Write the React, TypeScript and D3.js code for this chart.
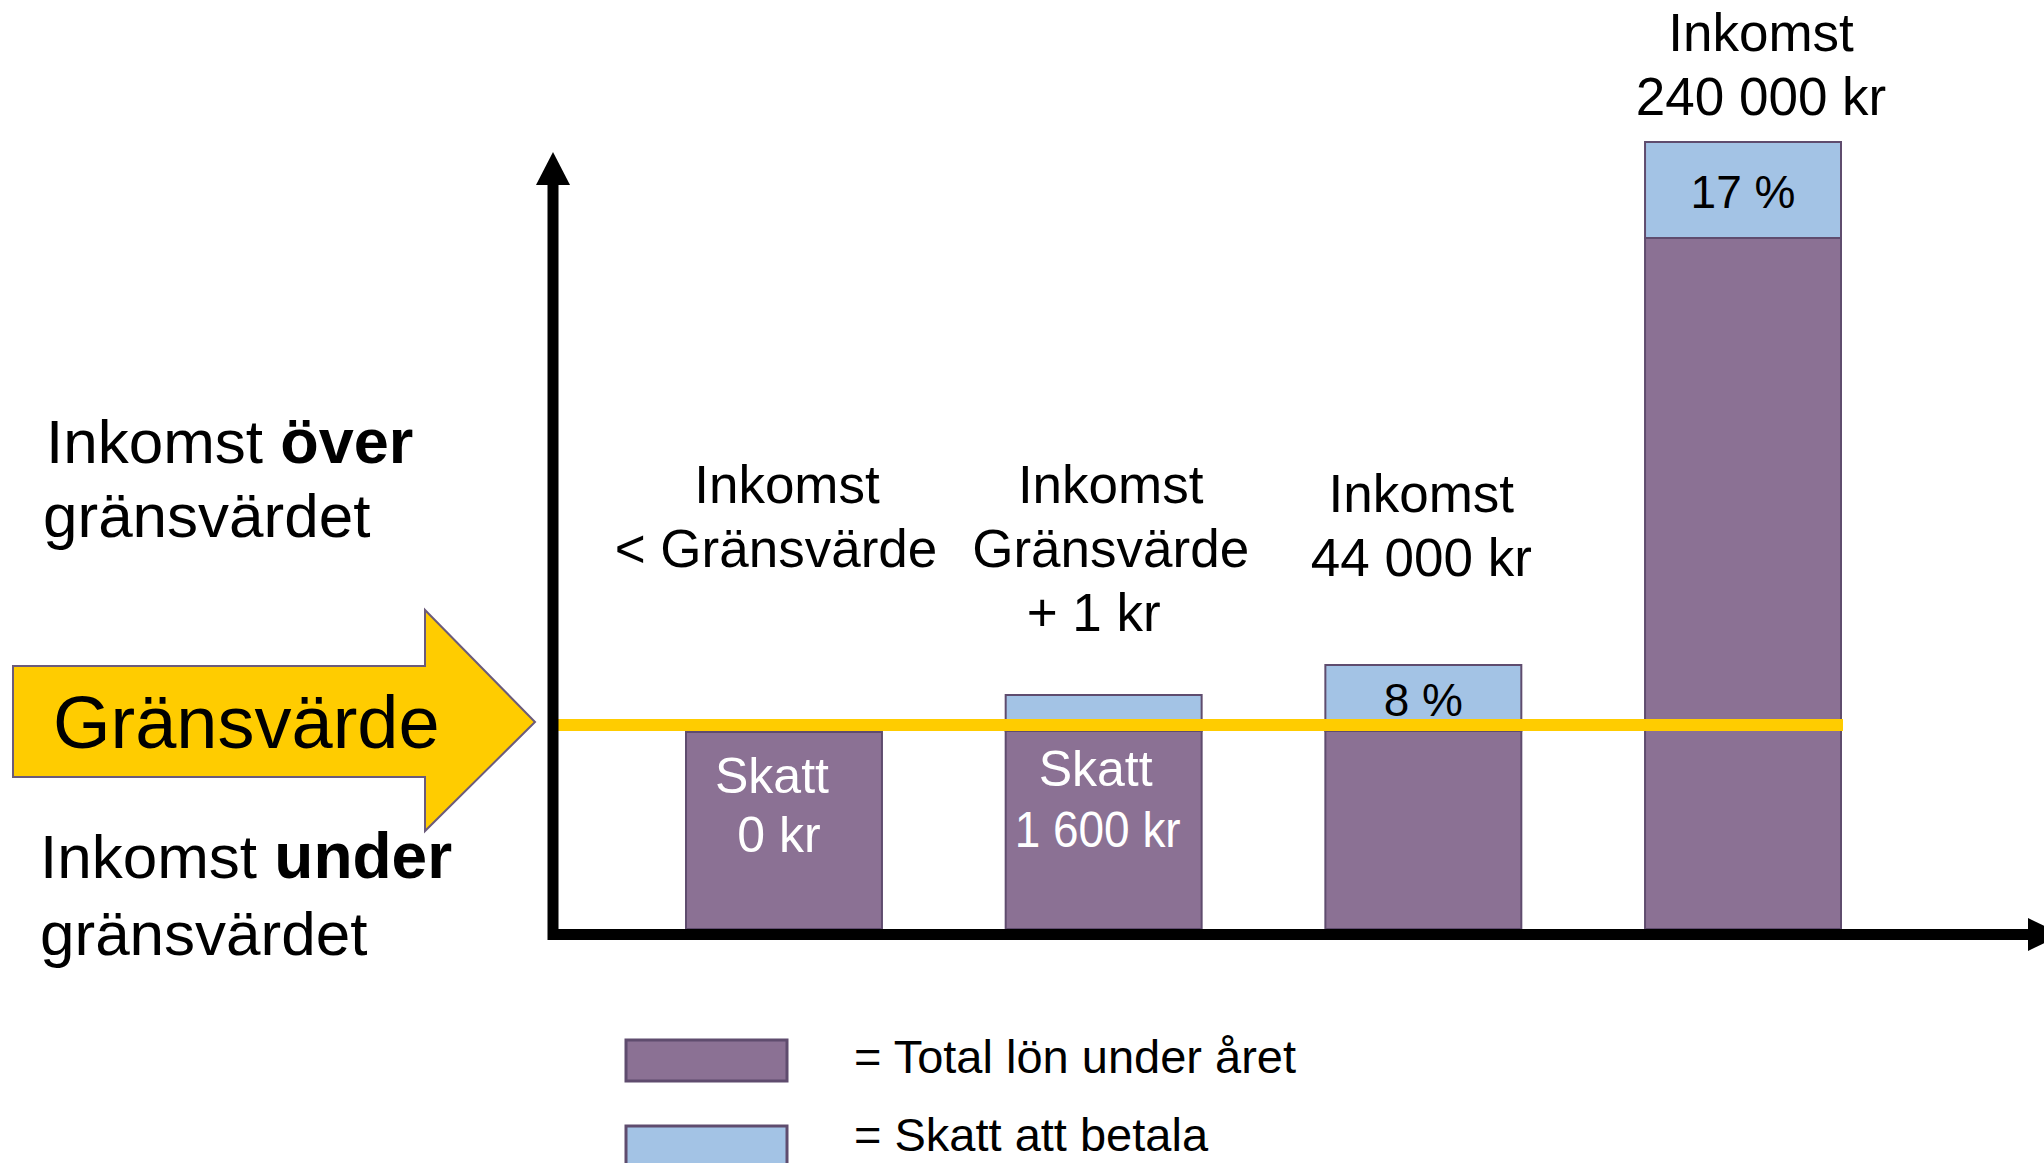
import React from "react";
import * as d3 from "d3";

// bars, left to right
const categories = ["under", "grans", "mellan", "hog"];
const labelLines = [
  ["Inkomst", "< Gränsvärde"],
  ["Inkomst", "Gränsvärde", "+ 1 kr"],
  ["Inkomst", "44 000 kr"],
  ["Inkomst", "240 000 kr"],
];
// schematic heights (arbitrary units)
const lonValues = [197, 198, 198, 691];
const skattValues = [0, 36, 66, 96];
const skattPercent = ["", "", "8 %", "17 %"];
const innerLabels = [["Skatt", "0 kr"], ["Skatt", "1 600 kr"], [], []];
const threshold = 204;
const legendItems = ["= Total lön under året", "= Skatt att betala"];

const FONT = "'Liberation Sans', Arial, sans-serif";
const PURPLE = "#8b7194";
const BLUE = "#a3c3e5";
const EDGE = "#5f4c6e";
const YELLOW = "#ffcc00";

export default function App() {
  const width = 2044;
  const height = 1163;
  const base = 929;

  const x = d3.scaleBand().domain(categories).range([686, 1841]).paddingInner(0.387).paddingOuter(0);
  const y = d3.scaleLinear().domain([0, 800]).range([base, base - 800]);

  // text layout tweaks
  const labelY = [503, 503, 512, 51];
  const labelDx = [[3, -8], [7, 7, -10], [-2, -2], [18, 18]];
  const innerDx = [[-12, -5], [-8, -6]];
  const innerY = [[61, 120], [55, 116]];

  return (
    <svg width={width} height={height} style={{ position: "absolute", left: 0, top: 0 }} fontFamily={FONT}>
      <rect width={width} height={height} fill="white" />

      {/* left side texts */}
      <text x={46} y={463} fontSize={62}>Inkomst <tspan fontWeight="bold" fontSize={63}>över</tspan></text>
      <text x={43} y={537} fontSize={62}>gränsvärdet</text>
      <text x={40} y={878} fontSize={62}>Inkomst <tspan fontWeight="bold" fontSize={64}>under</tspan></text>
      <text x={40} y={955} fontSize={62}>gränsvärdet</text>

      {/* big arrow */}
      <polygon
        points="13,666 425,666 425,610 535,722 425,831 425,777 13,777"
        fill={YELLOW}
        stroke="#6b5b7b"
        strokeWidth={2}
      />
      <text x={53} y={748} fontSize={74}>Gränsvärde</text>

      {/* bars */}
      {categories.map((c, i) => {
        const bx = x(c) as number;
        const bw = x.bandwidth();
        const lonTop = y(lonValues[i]);
        const skattTop = y(lonValues[i] + skattValues[i]);
        const cx = bx + bw / 2;
        return (
          <g key={c}>
            <rect x={bx} y={lonTop} width={bw} height={base - lonTop} fill={PURPLE} stroke={EDGE} strokeWidth={2} />
            {skattValues[i] > 0 && (
              <rect x={bx} y={skattTop} width={bw} height={lonTop - skattTop} fill={BLUE} stroke={EDGE} strokeWidth={2} />
            )}
            {skattPercent[i] && (
              <text x={cx} y={(lonTop + skattTop) / 2 + 18} fontSize={46} textAnchor="middle">{skattPercent[i]}</text>
            )}
            {innerLabels[i].map((t, j) => (
              <text
                key={j}
                x={cx + innerDx[i][j]}
                y={lonTop + innerY[i][j]}
                fontSize={50}
                fill="white"
                textAnchor="middle"
                textLength={t === "1 600 kr" ? 166 : undefined}
                lengthAdjust="spacingAndGlyphs"
              >{t}</text>
            ))}
            {labelLines[i].map((t, j) => (
              <text key={"l" + j} x={cx + labelDx[i][j]} y={labelY[i] + j * 64} fontSize={53} textAnchor="middle">{t}</text>
            ))}
          </g>
        );
      })}

      {/* threshold line */}
      <line x1={555} x2={1843} y1={y(threshold)} y2={y(threshold)} stroke={YELLOW} strokeWidth={12} />

      {/* axes */}
      <line x1={553} x2={553} y1={180} y2={940} stroke="black" strokeWidth={11} />
      <polygon points="553,152 536,185 570,185" fill="black" />
      <line x1={548} x2={2032} y1={934.5} y2={934.5} stroke="black" strokeWidth={11} />
      <polygon points="2028,918 2062,934.5 2028,951" fill="black" />

      {/* legend */}
      {legendItems.map((t, i) => (
        <g key={t}>
          <rect x={626} y={1040 + i * 86} width={161} height={41} fill={i === 0 ? PURPLE : BLUE} stroke={EDGE} strokeWidth={3} />
          <text x={854} y={1073 + i * 78} fontSize={47}>{t}</text>
        </g>
      ))}
    </svg>
  );
}
